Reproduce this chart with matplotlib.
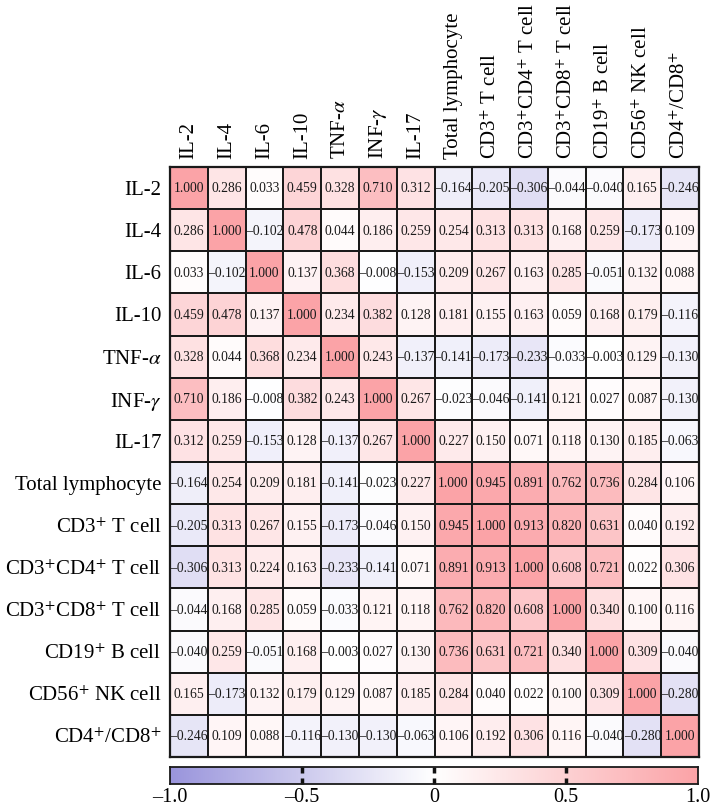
import numpy as np
import matplotlib
matplotlib.use("Agg")
import matplotlib.pyplot as plt
from matplotlib.colors import LinearSegmentedColormap

plt.rcParams.update({
    "font.family": ["Liberation Serif", "DejaVu Serif"],
    "mathtext.fontset": "stix",
})

labels = [
    "IL-2", "IL-4", "IL-6", "IL-10", r"TNF-$\alpha$", r"INF-$\gamma$", "IL-17",
    "Total lymphocyte", r"CD3$^{+}$ T cell", r"CD3$^{+}$CD4$^{+}$ T cell",
    r"CD3$^{+}$CD8$^{+}$ T cell", r"CD19$^{+}$ B cell", r"CD56$^{+}$ NK cell",
    r"CD4$^{+}$/CD8$^{+}$",
]

corr = np.array([
    [1.000, 0.286, 0.033, 0.459, 0.328, 0.710, 0.312, -0.164, -0.205, -0.306, -0.044, -0.040, 0.165, -0.246],
    [0.286, 1.000, -0.102, 0.478, 0.044, 0.186, 0.259, 0.254, 0.313, 0.313, 0.168, 0.259, -0.173, 0.109],
    [0.033, -0.102, 1.000, 0.137, 0.368, -0.008, -0.153, 0.209, 0.267, 0.163, 0.285, -0.051, 0.132, 0.088],
    [0.459, 0.478, 0.137, 1.000, 0.234, 0.382, 0.128, 0.181, 0.155, 0.163, 0.059, 0.168, 0.179, -0.116],
    [0.328, 0.044, 0.368, 0.234, 1.000, 0.243, -0.137, -0.141, -0.173, -0.233, -0.033, -0.003, 0.129, -0.130],
    [0.710, 0.186, -0.008, 0.382, 0.243, 1.000, 0.267, -0.023, -0.046, -0.141, 0.121, 0.027, 0.087, -0.130],
    [0.312, 0.259, -0.153, 0.128, -0.137, 0.267, 1.000, 0.227, 0.150, 0.071, 0.118, 0.130, 0.185, -0.063],
    [-0.164, 0.254, 0.209, 0.181, -0.141, -0.023, 0.227, 1.000, 0.945, 0.891, 0.762, 0.736, 0.284, 0.106],
    [-0.205, 0.313, 0.267, 0.155, -0.173, -0.046, 0.150, 0.945, 1.000, 0.913, 0.820, 0.631, 0.040, 0.192],
    [-0.306, 0.313, 0.224, 0.163, -0.233, -0.141, 0.071, 0.891, 0.913, 1.000, 0.608, 0.721, 0.022, 0.306],
    [-0.044, 0.168, 0.285, 0.059, -0.033, 0.121, 0.118, 0.762, 0.820, 0.608, 1.000, 0.340, 0.100, 0.116],
    [-0.040, 0.259, -0.051, 0.168, -0.003, 0.027, 0.130, 0.736, 0.631, 0.721, 0.340, 1.000, 0.309, -0.040],
    [0.165, -0.173, 0.132, 0.179, 0.129, 0.087, 0.185, 0.284, 0.040, 0.022, 0.100, 0.309, 1.000, -0.280],
    [-0.246, 0.109, 0.088, -0.116, -0.130, -0.130, -0.063, 0.106, 0.192, 0.306, 0.116, -0.040, -0.280, 1.000],
])

cbar_ticks = [-1.0, -0.5, 0.0, 0.5, 1.0]
cbar_ticklabels = ["\u20131.0", "\u20130.5", "0", "0.5", "1.0"]
cbar_marks = [-0.5, 0.0, 0.5]

cmap = LinearSegmentedColormap.from_list(
    "bwr_soft", ["#9a95dc", "#ffffff", "#fba3a7"])

W, H = 710, 809
fig = plt.figure(figsize=(W / 100, H / 100), dpi=100)


def px_axes(x0, y0, x1, y1):
    return fig.add_axes([x0 / W, 1 - y1 / H, (x1 - x0) / W, (y1 - y0) / H])


n = len(labels)
ax = px_axes(170, 167, 699, 757)
ax.pcolormesh(np.arange(n + 1), np.arange(n + 1), corr, cmap=cmap,
              vmin=-1, vmax=1, edgecolors="#1a1a1a", linewidth=1.2)
ax.set_xlim(0, n)
ax.set_ylim(n, 0)

for i in range(n):
    for j in range(n):
        v = corr[i, j]
        txt = f"{v:.3f}" if v >= 0 else "\u2013" + f"{-v:.3f}"
        ax.text(j + 0.5, i + 0.52, txt, ha="center", va="center",
                fontsize=9.8, color="#1a1a1a")

ax.set_xticks(np.arange(n) + 0.5)
ax.set_yticks(np.arange(n) + 0.5)
ax.set_xticklabels(labels, rotation=90, fontsize=15)
ax.set_yticklabels(labels, fontsize=15)
ax.xaxis.tick_top()
ax.tick_params(length=0, pad=6)
for s in ax.spines.values():
    s.set_linewidth(1.6)
    s.set_color("#1a1a1a")

# colour bar along the bottom
cax = px_axes(170, 767, 698, 784)
grad = np.linspace(-1, 1, 512).reshape(1, -1)
cax.imshow(grad, aspect="auto", cmap=cmap, vmin=-1, vmax=1,
           extent=[-1, 1, 0, 1])
cax.set_xlim(-1, 1)
cax.set_ylim(0, 1)
cax.set_yticks([])
cax.xaxis.remove_overlapping_locs = False
cax.set_xticks(cbar_ticks)
cax.set_xticklabels(cbar_ticklabels, fontsize=14.5)
cax.tick_params(axis="x", which="major", length=0, pad=3)
cax.set_xticks(cbar_marks, minor=True)
cax.tick_params(axis="x", which="minor", direction="in", length=4,
                width=2.5, top=True, bottom=True, color="#111111")
for s in cax.spines.values():
    s.set_linewidth(1.3)
    s.set_color("#1a1a1a")

fig.savefig("out.png", dpi=100, facecolor="white")
